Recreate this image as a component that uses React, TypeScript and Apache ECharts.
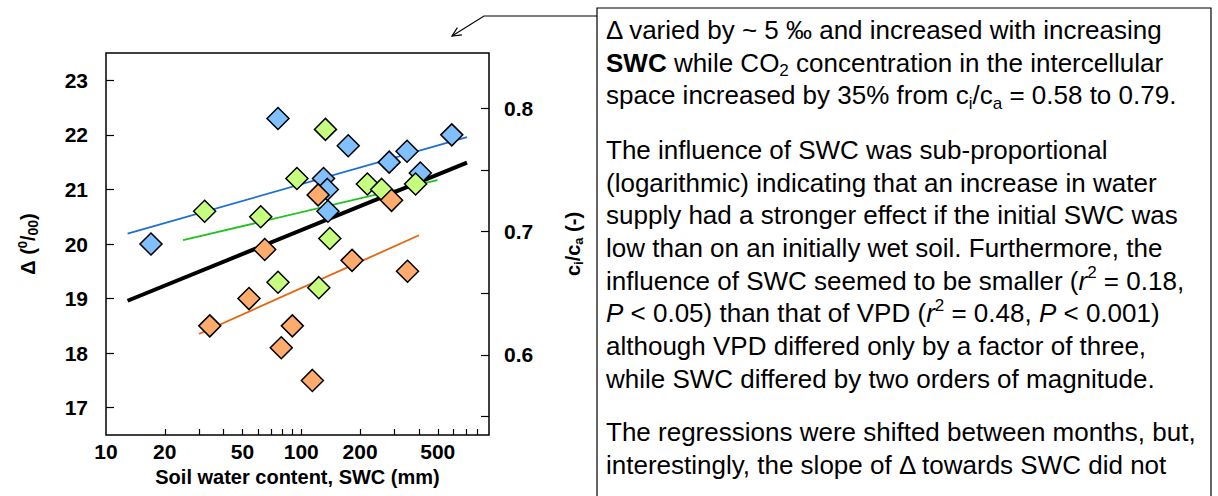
import React, { useEffect, useRef } from 'react';
import * as echarts from 'echarts';

// ---- data (SWC in mm, Δ in ‰) ----
const blueSWC = [17, 76, 130, 136, 137, 174, 282, 348, 407, 590];
const blueDelta = [20.0, 22.3, 21.2, 21.0, 20.6, 21.8, 21.5, 21.7, 21.3, 22.0];
const greenSWC = [32, 62, 76, 95, 123, 133, 140, 218, 258, 385];
const greenDelta = [20.6, 20.5, 19.3, 21.2, 19.2, 22.1, 20.1, 21.1, 21.0, 21.1];
const orangeSWC = [34, 54, 65, 79, 90, 114, 122, 182, 290, 350];
const orangeDelta = [18.5, 19.0, 19.9, 18.1, 18.5, 17.5, 20.9, 19.7, 20.8, 19.5];

// regression line end points
const blueFitSWC = [12.9, 706];
const blueFitDelta = [20.19, 21.96];
const greenFitSWC = [24.8, 498];
const greenFitDelta = [20.07, 21.17];
const orangeFitSWC = [29.9, 401];
const orangeFitDelta = [18.35, 20.16];
const allFitSWC = [12.9, 706];
const allFitDelta = [18.96, 21.49];

// ticks
const xTickValues = [20, 30, 40, 50, 60, 70, 80, 90, 100, 200, 300, 400, 500, 600, 700, 800];
const xLabelValues = [10, 20, 50, 100, 200, 500];
const deltaTicks = [17, 18, 19, 20, 21, 22, 23];
const ratioTicks = [0.55, 0.6, 0.65, 0.7, 0.75, 0.8];
const ratioLabels = [0.6, 0.7, 0.8];

const FONT = "'Liberation Sans', Arial, Helvetica, sans-serif";

const lg = (v: number) => Math.log10(v);
const pts = (xs: number[], ys: number[]) => xs.map((x, i) => [lg(x), ys[i]]);

const para1 =
  'Δ varied by ~ 5 ‰ and increased with increasing\n' +
  '{b|SWC} while CO{sub|2} concentration in the intercellular\n' +
  'space increased by 35% from c{sub|i}/c{sub|a} = 0.58 to 0.79.';
const para2 =
  'The influence of SWC was sub-proportional\n' +
  '(logarithmic) indicating that an increase in water\n' +
  'supply had a stronger effect if the initial SWC was\n' +
  'low than on an initially wet soil. Furthermore, the\n' +
  'influence of SWC seemed to be smaller ({i|r}{sup|2} = 0.18,\n' +
  '{i|P} < 0.05) than that of VPD ({i|r}{sup|2} = 0.48, {i|P} < 0.001)\n' +
  'although VPD differed only by a factor of three,\n' +
  'while SWC differed by two orders of magnitude.';
const para3 =
  'The regressions were shifted between months, but,\n' +
  'interestingly, the slope of Δ towards SWC did not';

const TXT = 26;
const LH = 32.7;
const textRich = {
  b: { fontFamily: FONT, fontSize: TXT, fontWeight: 'bold', lineHeight: LH, fill: '#000' },
  i: { fontFamily: FONT, fontSize: TXT, fontStyle: 'italic', lineHeight: LH, fill: '#000' },
  sub: { fontFamily: FONT, fontSize: 17, lineHeight: 17, verticalAlign: 'bottom', fill: '#000' },
  sup: { fontFamily: FONT, fontSize: 17, lineHeight: 22, verticalAlign: 'top', fill: '#000' },
};

const textEl = (y: number, text: string) => ({
  type: 'text',
  x: 606,
  y,
  silent: true,
  style: {
    text,
    fontFamily: FONT,
    fontSize: TXT,
    lineHeight: LH,
    fill: '#000',
    verticalAlign: 'top',
    align: 'left',
    rich: textRich,
  },
});

const scatter = (name: string, xs: number[], ys: number[], color: string) => ({
  name,
  type: 'scatter',
  symbol: 'diamond',
  symbolSize: 22,
  data: pts(xs, ys),
  itemStyle: { color, borderColor: '#000', borderWidth: 1.5, opacity: 1 },
  z: 5,
});

const fit = (name: string, xs: number[], ys: number[], color: string, width: number) => ({
  name,
  type: 'line',
  data: pts(xs, ys),
  symbol: 'none',
  lineStyle: { color, width },
  z: 3,
});

const tickLabel = { color: '#000', fontSize: 21, fontWeight: 'bold', fontFamily: FONT };

const option = {
  animation: false,
  backgroundColor: '#fff',
  grid: {
    left: 106,
    right: 729,
    top: 53,
    bottom: 61,
    show: true,
    borderColor: '#000',
    borderWidth: 1.5,
    backgroundColor: 'transparent',
  },
  xAxis: {
    type: 'value',
    min: 1,
    max: lg(915),
    axisLine: { show: false },
    splitLine: { show: false },
    axisTick: {
      show: true,
      inside: true,
      length: 6,
      customValues: xTickValues.map(lg),
      lineStyle: { color: '#000', width: 1.2 },
    },
    axisLabel: {
      ...tickLabel,
      margin: 6,
      customValues: xLabelValues.map(lg),
      formatter: (v: number) => String(Math.round(Math.pow(10, v))),
    },
    name: 'Soil water content, SWC (mm)',
    nameLocation: 'middle',
    nameGap: 32,
    nameTextStyle: { color: '#000', fontSize: 20, fontWeight: 'bold', fontFamily: FONT },
  },
  yAxis: [
    {
      type: 'value',
      position: 'left',
      min: 16.5,
      max: 23.5,
      axisLine: { show: false },
      splitLine: { show: false },
      axisTick: {
        show: true,
        inside: true,
        length: 8,
        customValues: deltaTicks,
        lineStyle: { color: '#000', width: 1.2 },
      },
      axisLabel: { ...tickLabel, margin: 18, customValues: deltaTicks },
      name: '{a|Δ (}{sup|0}{a|/}{sub|00}{a|)}',
      nameLocation: 'middle',
      nameRotate: 90,
      nameGap: 66,
      nameTextStyle: {
        rich: {
          a: { fontSize: 20, fontWeight: 'bold', fontFamily: FONT, color: '#000', lineHeight: 24 },
          sup: { fontSize: 13, fontWeight: 'bold', fontFamily: FONT, color: '#000', lineHeight: 14, verticalAlign: 'top' },
          sub: { fontSize: 14, fontWeight: 'bold', fontFamily: FONT, color: '#000', lineHeight: 16, verticalAlign: 'bottom' },
        },
      },
    },
    {
      type: 'value',
      position: 'right',
      min: 0.535,
      max: 0.845,
      axisLine: { show: false },
      splitLine: { show: false },
      axisTick: {
        show: true,
        inside: true,
        length: 8,
        customValues: ratioTicks,
        lineStyle: { color: '#000', width: 1.2 },
      },
      axisLabel: {
        ...tickLabel,
        margin: 15,
        customValues: ratioLabels,
        formatter: (v: number) => v.toFixed(1),
      },
      name: '{a|c}{s|i}{a|/c}{s|a}{a| (-)}',
      nameLocation: 'middle',
      nameRotate: 90,
      nameGap: 72,
      nameTextStyle: {
        rich: {
          a: { fontSize: 20, fontWeight: 'bold', fontFamily: FONT, color: '#000', lineHeight: 24 },
          s: { fontSize: 13, fontWeight: 'bold', fontFamily: FONT, color: '#000', lineHeight: 14, verticalAlign: 'bottom' },
        },
      },
    },
  ],
  series: [
    fit('blue fit', blueFitSWC, blueFitDelta, '#1a6fd0', 1.8),
    fit('green fit', greenFitSWC, greenFitDelta, '#1ec31e', 1.8),
    fit('orange fit', orangeFitSWC, orangeFitDelta, '#e8640c', 1.8),
    fit('all fit', allFitSWC, allFitDelta, '#000', 4),
    scatter('blue', blueSWC, blueDelta, '#80c0ff'),
    scatter('green', greenSWC, greenDelta, '#c6ff80'),
    scatter('orange', orangeSWC, orangeDelta, '#ffab6e'),
  ],
  graphic: [
    {
      type: 'rect',
      silent: true,
      shape: { x: 597, y: 8, width: 614, height: 520 },
      style: { fill: 'none', stroke: '#000', lineWidth: 1.2 },
    },
    {
      type: 'polyline',
      silent: true,
      shape: { points: [[597, 16], [484, 16], [452, 36]] },
      style: { fill: 'none', stroke: '#000', lineWidth: 1.2 },
    },
    {
      type: 'polyline',
      silent: true,
      shape: { points: [[461.9, 34.8], [452, 36], [457.4, 27.6]] },
      style: { fill: 'none', stroke: '#000', lineWidth: 1.2 },
    },
    textEl(13.6, para1),
    textEl(133.6, para2),
    textEl(415.6, para3),
  ],
};

export default function App() {
  const ref = useRef<HTMLDivElement>(null);
  useEffect(() => {
    document.body.style.margin = '0';
    const chart = echarts.init(ref.current as HTMLDivElement, null, { renderer: 'svg' });
    chart.setOption(option as any);
    return () => chart.dispose();
  }, []);
  return <div ref={ref} style={{ width: 1218, height: 496 }} />;
}
